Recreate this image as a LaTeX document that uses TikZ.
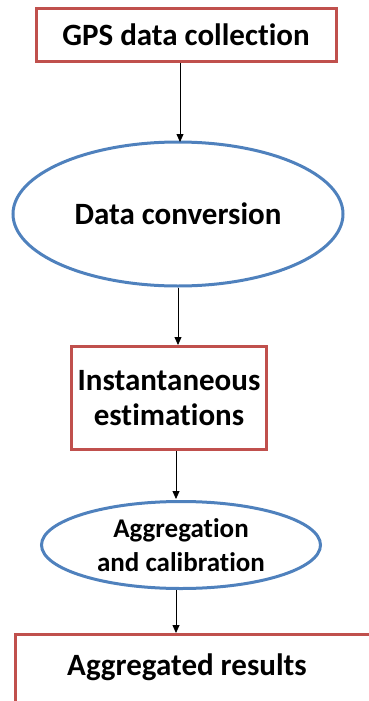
\documentclass[tikz,border=0pt]{standalone}
\usepackage{fontspec}
\setmainfont[Ligatures=NoCommon]{Carlito}
\usetikzlibrary{shapes.geometric,arrows.meta}

\definecolor{boxred}{HTML}{C0504D}
\definecolor{ellblue}{HTML}{4F81BD}

\begin{document}
\begin{tikzpicture}[x=1pt,y=-1pt,
    redbox/.style={draw=boxred, line width=3pt, rectangle, inner sep=0pt, align=center},
    blueell/.style={draw=ellblue, line width=3pt, ellipse, inner sep=0pt, align=center},
    bigtext/.style={font=\fontsize{31}{35}\selectfont\bfseries},
    smalltext/.style={font=\fontsize{27}{34}\selectfont\bfseries},
    flow/.style={-{Triangle[width=7pt,length=8pt]}, line width=0.8pt}]
    \path[use as bounding box, clip] (0,0) rectangle (369,701);
    %
    \node[redbox, bigtext, minimum width=300, minimum height=53] (gps) at (186,35) {GPS data collection};
    \node[blueell, bigtext, minimum width=330, minimum height=144] (conv) at (178,214) {Data conversion};
    \node[redbox, bigtext, minimum width=195, minimum height=103] (inst) at (169,398) {Instantaneous\\estimations};
    \node[blueell, smalltext, minimum width=279, minimum height=87] (aggr) at (181,545) {Aggregation\\and calibration};
    \node[redbox, minimum width=400, minimum height=140, anchor=north west] (res) at (14,633) {};
    \node[bigtext] (restext) at (187,667) {Aggregated results};
    %
    \draw[flow] (gps.south) ++(-6,0) -- ++(0,79);
    \draw[flow] (conv.south) -- (conv.south |- inst.north);
    \draw[flow] (inst.south) ++(7,0) -- ++(0,48);
    \draw[flow] (aggr.south) ++(-5,0) -- ++(0,43);
\end{tikzpicture}
\end{document}
